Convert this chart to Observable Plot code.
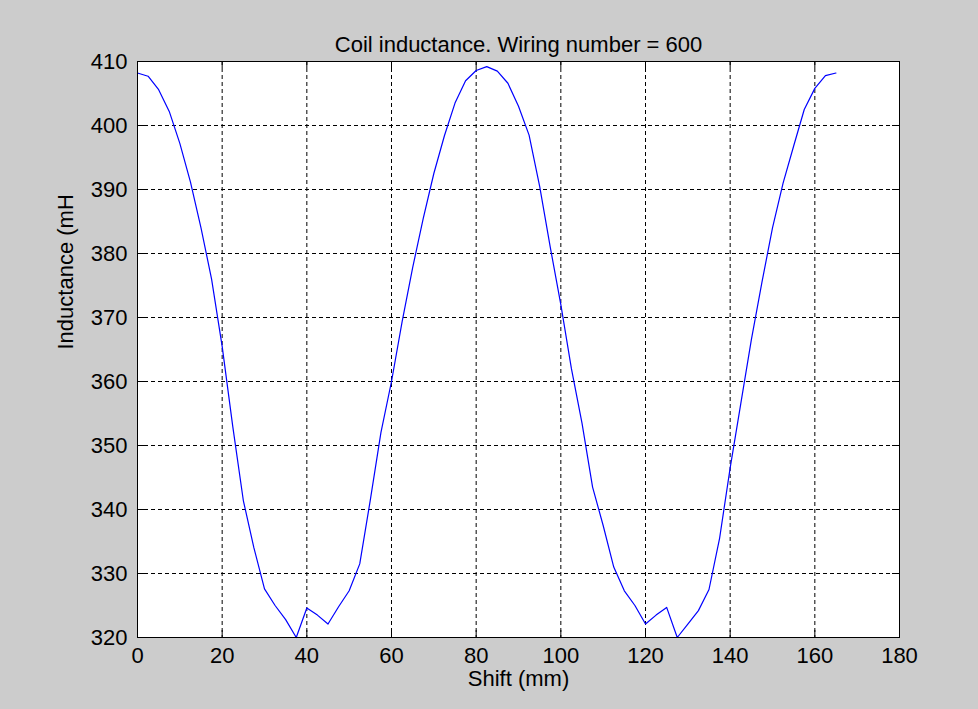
<!DOCTYPE html>
<html>
<head>
<meta charset="utf-8">
<script src="https://cdn.jsdelivr.net/npm/d3@7"></script>
<script src="https://cdn.jsdelivr.net/npm/@observablehq/plot@0.6"></script>
<style>
  html, body { margin: 0; padding: 0; background: #cccccc; }
  #chart { width: 978px; height: 709px; }
</style>
</head>
<body>
<div id="chart"></div>
<script>
const titleText = "Coil inductance. Wiring number = 600";
const xLabel = "Shift (mm)";
const yLabel = "Inductance (mH";

const shift = [0, 2.5, 5, 7.5, 10, 12.5, 15, 17.5, 20, 22.5, 25, 27.5, 30, 32.5, 35, 37.5,
  40, 42.5, 45, 47.5, 50, 52.5, 55, 57.5, 60, 62.5, 65, 67.5, 70, 72.5, 75, 77.5,
  80, 82.5, 85, 87.5, 90, 92.5, 95, 97.5, 100, 102.5, 105, 107.5, 110, 112.5, 115, 117.5,
  120, 122.5, 125, 127.5, 130, 132.5, 135, 137.5, 140, 142.5, 145, 147.5, 150, 152.5,
  155, 157.5, 160, 162.5, 165];
const inductance = [408.2, 407.7, 405.6, 402.2, 397.2, 391.2, 384, 376, 365.5, 353, 341.4, 334, 327.6, 325, 322.8, 320,
  324.6, 323.5, 322.1, 324.8, 327.3, 331.5, 341.5, 352, 360, 369.3, 377.8, 385.5, 392.5, 398.4, 403.5, 407,
  408.6, 409.2, 408.5, 406.6, 403, 398.5, 390.5, 381, 372, 362, 353.5, 343.5, 337.5, 331, 327.3, 325,
  322.1, 323.5, 324.7, 320, 322.1, 324.2, 327.5, 335.5, 346.5, 356.5, 366.5, 375.5, 384, 391,
  396.8, 402.5, 405.8, 407.8, 408.2];

const xTicks = [0, 20, 40, 60, 80, 100, 120, 140, 160, 180];
const yTicks = [320, 330, 340, 350, 360, 370, 380, 390, 400, 410];

const data = shift.map((s, i) => ({shift: s, inductance: inductance[i]}));

const W = 978, H = 709;
const mL = 137, mR = 79, mT = 61, mB = 72;
const frameH = H - mT - mB;
const frameW = W - mL - mR;
const tickLen = 7;
const font = "'Liberation Sans', Arial, sans-serif";
const fs = 22;

const chart = Plot.plot({
  width: W,
  height: H,
  marginLeft: mL,
  marginRight: mR,
  marginTop: mT,
  marginBottom: mB,
  style: {background: "#cccccc", fontFamily: font, fontSize: fs + "px", color: "black"},
  x: {domain: [0, 180], ticks: xTicks},
  y: {domain: [320, 410], ticks: yTicks},
  marks: [
    Plot.frame({fill: "white"}),
    Plot.gridX(xTicks, {stroke: "black", strokeOpacity: 1, strokeDasharray: "4,3", strokeWidth: 1}),
    Plot.gridY(yTicks, {stroke: "black", strokeOpacity: 1, strokeDasharray: "4,3", strokeWidth: 1}),
    Plot.tickX(xTicks, {x: d => d, stroke: "black", insetTop: frameH - tickLen}),
    Plot.tickX(xTicks, {x: d => d, stroke: "black", insetBottom: frameH - tickLen}),
    Plot.tickY(yTicks, {y: d => d, stroke: "black", insetRight: frameW - tickLen}),
    Plot.tickY(yTicks, {y: d => d, stroke: "black", insetLeft: frameW - tickLen}),
    Plot.axisX(xTicks, {tickSize: 0, tickPadding: 10, label: null, fontSize: fs, fill: "black"}),
    Plot.axisY(yTicks, {tickSize: 0, tickPadding: 10, label: null, fontSize: fs, fill: "black"}),
    Plot.line(data, {x: "shift", y: "inductance", stroke: "#0000ff", strokeWidth: 1.2}),
    Plot.frame({stroke: "black", strokeWidth: 1}),
    Plot.text([titleText], {text: d => d, frameAnchor: "top", dy: -25, fontSize: fs, fill: "black"}),
    Plot.text([xLabel], {text: d => d, frameAnchor: "bottom", dy: 48, fontSize: fs, fill: "black"}),
    Plot.text([yLabel], {text: d => d, frameAnchor: "left", dx: -72, rotate: -90, fontSize: fs, fill: "black"})
  ]
});

document.getElementById("chart").appendChild(chart);
</script>
</body>
</html>
